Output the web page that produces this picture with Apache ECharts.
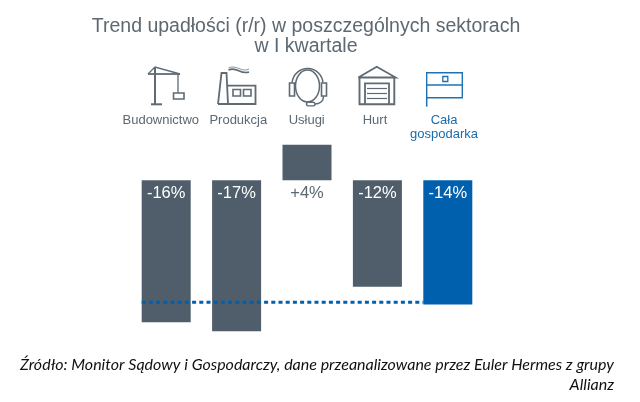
<!DOCTYPE html>
<html><head><meta charset="utf-8">
<style>html,body{margin:0;padding:0;background:#fff}#c{width:640px;height:402px}</style>
<script src="https://cdn.jsdelivr.net/npm/echarts@6/dist/echarts.min.js"></script>
</head><body><div id="c"></div>
<script>
const titleLines = ['Trend upadłości (r/r) w poszczególnych sektorach', 'w I kwartale'];
const categories = ['Budownictwo', 'Produkcja', 'Usługi', 'Hurt', 'Cała\ngospodarka'];
const values = [-16, -17, 4, -12, -14];
const referenceLevel = -13.75;
const sourceLines = 'Źródło: Monitor Sądowy i Gospodarczy, dane przeanalizowane przez Euler Hermes z grupy\nAllianz';

const GREY = '#4f5e6a', BLUE = '#0060ae', TEXT = '#5c6872', ICON = '#5f6a73', ICONB = '#1f72b2';
const BAR_W = 49;
const labelCenters = [160.8, 238.3, 306.7, 375, 444];

function line(pts, color, w) {
  return {type:'polyline', shape:{points:pts}, style:{fill:null, stroke:color||ICON, lineWidth:w||1.8}, silent:true};
}
function box(x,y,w,h,color,lw) {
  return {type:'rect', shape:{x:x,y:y,width:w,height:h}, style:{fill:null, stroke:color||ICON, lineWidth:lw||1.6}, silent:true};
}
const icons = [
  // crane
  line([[155,67],[155,104]],ICON,2), line([[151,104.3],[162,104.3]],ICON,2),
  line([[148,74],[180,74]]), line([[148,74],[155,67],[180,74]],ICON,1.3),
  line([[178,74],[178,93]],ICON,1.3), box(173.5,93,10.5,6),
  // factory
  line([[218,104],[221.5,73],[226.5,73],[228,104]]),
  line([[218,104],[255.5,104],[255.5,85.7],[227,85.7]]),
  box(233,89.5,7.5,6.5), box(243.5,89.5,7.5,6.5),
  {type:'bezierCurve', shape:{x1:228.5,y1:70,cpx1:237,cpx2:240,y2:72,x2:249,cpy1:66,cpy2:75}, style:{fill:null,stroke:ICON,lineWidth:1.6}, silent:true},
  {type:'bezierCurve', shape:{x1:228.5,y1:68,cpx1:236,cpx2:242,y2:69,x2:249,cpy1:64,cpy2:73}, style:{fill:null,stroke:'#8a939a',lineWidth:1}, silent:true},
  // headset
  {type:'ellipse', shape:{cx:307.5,cy:86,rx:12,ry:16}, style:{fill:null,stroke:ICON,lineWidth:1.5}, silent:true},
  {type:'arc', shape:{cx:307.5,cy:84,r:15.5,startAngle:Math.PI*1.03,endAngle:Math.PI*1.97}, style:{fill:null,stroke:ICON,lineWidth:1.5}, silent:true},
  box(289.5,83,5,13), box(321.5,83,5,13),
  {type:'rect', shape:{x:306.5,y:102.3,width:8.5,height:3.6,r:1.8}, style:{fill:null,stroke:ICON,lineWidth:1.4}, silent:true},
  {type:'bezierCurve', shape:{x1:315,y1:104,cpx1:319,cpy1:104,cpx2:323.5,cpy2:102,x2:323.5,y2:96}, style:{fill:null,stroke:ICON,lineWidth:1.4}, silent:true},
  // warehouse
  line([[358.3,77.5],[376.7,66.7],[395.7,77.5],[358.3,77.5]]),
  line([[359.5,77.5],[359.5,104.3],[394.3,104.3],[394.3,77.5]],ICON,1.9),
  line([[365,104],[365,83.3],[389,83.3],[389,104]]),
  line([[367,88.5],[387,88.5]],ICON,1.2), line([[367,93.5],[387,93.5]],ICON,1.2), line([[367,98.5],[387,98.5]],ICON,1.2),
  // flag
  box(426.7,72.7,35.6,25,ICONB,1.4), line([[426.7,85],[462.3,85]],ICONB,1.5),
  line([[426.7,97],[426.7,106.7]],ICONB,1.5), box(442.8,76.5,5,5,ICONB,1.3)
];
const catLabels = categories.map((c,i)=>({
  type:'text', x:labelCenters[i], y:114, silent:true,
  style:{text:c, fill:i===4?'#1b6cab':TEXT, font:'13px "Liberation Sans"', textAlign:'center', lineHeight:13.5, textVerticalAlign:'top'}
}));
const sourceText = {
  type:'text', x:614, y:355, silent:true,
  style:{text:sourceLines, fill:'#111', font:'italic 16px Lato', textAlign:'right', lineHeight:20}
};
const chart = echarts.init(document.getElementById('c'), null, {renderer:'canvas'});
chart.setOption({
  animation:false, backgroundColor:'#fff',
  title:{
    text:titleLines.join('\n'), left:301, top:12, textAlign:'center',
    textStyle:{fontFamily:'Liberation Sans', fontSize:19.5, fontWeight:'normal', color:TEXT, lineHeight:19.6}
  },
  grid:{left:131, width:352, top:127.1, height:212.9},
  xAxis:{type:'category', data:categories, show:false},
  yAxis:{type:'value', min:-18, max:6, interval:6, show:false},
  series:[{
    type:'bar', data:values.map((v,i)=>({value:v, itemStyle:{color:i===4?BLUE:GREY},
      label:v>0?{position:'bottom',distance:5,color:TEXT}:{position:'insideTop',distance:5,color:'#fff'}})),
    barWidth:BAR_W, animation:false,
    label:{show:true, fontFamily:'Liberation Sans', fontSize:16.5,
      formatter:p=>(p.value>0?'+':'')+p.value+'%'}
  },{
    type:'custom', silent:true, z:5, data:[[0,referenceLevel]],
    renderItem:(params,api)=>{
      const a=api.coord([0,referenceLevel]), b=api.coord([4,referenceLevel]);
      return {type:'line', shape:{x1:a[0]-BAR_W/2,y1:a[1],x2:b[0]-BAR_W/2,y2:b[1]},
        style:{stroke:BLUE,lineWidth:3,lineDash:[4,3.2],fill:null}};
    }
  }],
  graphic:{elements:icons.concat(catLabels,[sourceText])}
});
</script></body></html>
